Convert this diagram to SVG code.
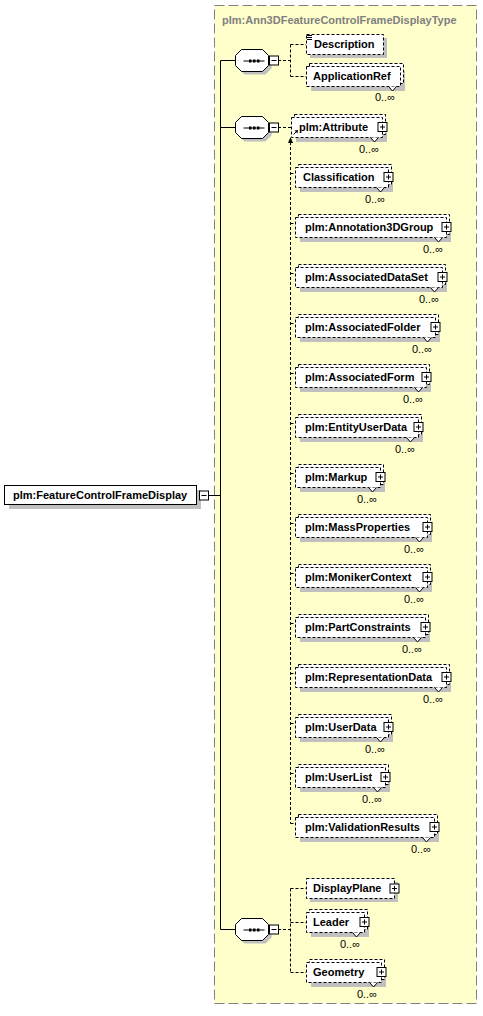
<svg xmlns="http://www.w3.org/2000/svg" width="483" height="1016" viewBox="0 0 483 1016">
<style>
  text { font-family: "Liberation Sans", Arial, sans-serif; font-size: 11px; fill: #000; }
  .nm { font-weight: bold; }
  .title { font-weight: bold; fill: #808080; }
  .card { font-weight: normal; text-anchor: end; }
  .shadow { fill: #C0C0C0; stroke: none; }
  .box { fill: #FFFFFF; stroke: #000; stroke-width: 1; stroke-dasharray: 3,2; }
  .solid { fill: #FFFFFF; stroke: #000; stroke-width: 1; }
  .btn { fill: #FFFFFF; stroke: #000; stroke-width: 1; }
  .ln { fill: none; stroke: #000; stroke-width: 1; }
  .dash { fill: none; stroke: #000; stroke-width: 1; stroke-dasharray: 3,2; }
  .notch { fill: #FFFFFF; stroke: #000; stroke-width: 1; }
</style>
<defs>
  <g id="oct">
    <polygon class="shadow" points="9,3 30,3 36,9 36,19 30,25 9,25 3,19 3,9"/>
    <polygon class="solid" points="6,0 27,0 33,6 33,16 27,22 6,22 0,16 0,6"/>
    <line class="ln" x1="8" y1="11.5" x2="29" y2="11.5"/>
    <rect x="13.5" y="10" width="2.5" height="3" fill="#000"/>
    <rect x="17.5" y="10" width="2.5" height="3" fill="#000"/>
    <rect x="21.5" y="10" width="2.5" height="3" fill="#000"/>
  </g>
  <g id="minus">
    <rect class="btn" x="0" y="0" width="9" height="9"/>
    <line class="ln" x1="2" y1="4.5" x2="7" y2="4.5"/>
  </g>
  <g id="plus">
    <rect class="btn" x="0" y="0" width="9" height="9"/>
    <line class="ln" x1="2" y1="4.5" x2="7" y2="4.5"/>
    <line class="ln" x1="4.5" y1="2" x2="4.5" y2="7"/>
  </g>
</defs>

<rect x="0" y="0" width="483" height="1016" fill="#FFFFFF"/>

<g id="type-frame">
  <rect x="214.5" y="5.5" width="262" height="998" fill="#FFFFCC" stroke="#808080" stroke-width="1" stroke-dasharray="10,4"/>
  <text class="title" x="222" y="24">plm:Ann3DFeatureControlFrameDisplayType</text>
</g>

<g id="connectors">
  <line class="ln" x1="208" y1="495.5" x2="220.5" y2="495.5"/>
  <line class="ln" x1="220.5" y1="60.5" x2="220.5" y2="929.5"/>
  <line class="ln" x1="220.5" y1="60.5" x2="235" y2="60.5"/>
  <line class="ln" x1="220.5" y1="127.5" x2="235" y2="127.5"/>
  <line class="ln" x1="220.5" y1="929.5" x2="235" y2="929.5"/>
  <path class="dash" d="M278 60.5 H290.5 M290.5 44.5 V76.5 M290.5 44.5 H306 M290.5 76.5 H306"/>
  <path class="dash" d="M278 127.5 H291"/>
  <path class="dash" d="M290.5 142 V823.5"/>
  <polygon points="290.5,137 288,143 293,143" fill="#000"/>
  <path class="dash" d="M290.5 173.5 H295 M290.5 223.5 H295 M290.5 273.5 H295 M290.5 323.5 H295 M290.5 373.5 H295 M290.5 423.5 H295 M290.5 473.5 H295 M290.5 523.5 H295 M290.5 573.5 H295 M290.5 623.5 H295 M290.5 673.5 H295 M290.5 723.5 H295 M290.5 773.5 H295 M290.5 823.5 H295"/>
  <path class="dash" d="M278 929.5 H290.5 M290.5 888.5 V972.5 M290.5 888.5 H306 M290.5 922.5 H306 M290.5 972.5 H306"/>
</g>

<g id="node-FeatureControlFrameDisplay">
  <rect class="shadow" x="9" y="490" width="192" height="19"/>
  <rect class="solid" x="4.5" y="485.5" width="192" height="19"/>
  <text class="nm" x="13" y="499">plm:FeatureControlFrameDisplay</text>
  <use href="#minus" x="199.5" y="491"/>
</g>

<g id="seq-1">
  <use href="#oct" x="235.5" y="49.5"/>
  <use href="#minus" x="269.5" y="56"/>
</g>
<g id="seq-2">
  <use href="#oct" x="235.5" y="116.5"/>
  <use href="#minus" x="269.5" y="123"/>
</g>
<g id="seq-3">
  <use href="#oct" x="235.5" y="918.5"/>
  <use href="#minus" x="269.5" y="925"/>
</g>

<g id="node-Description">
  <rect class="shadow" x="310" y="38" width="77" height="20"/>
  <rect class="box" x="306.5" y="34.5" width="77" height="20"/>
  <path class="ln" d="M307 35.5 H312 M307 37.5 H312 M307 39.5 H312"/>
  <text class="nm" x="314" y="48">Description</text>
</g>

<g id="node-ApplicationRef">
  <rect class="shadow" x="311" y="71" width="94" height="20"/>
  <rect class="box" x="309.5" y="63.5" width="94" height="20"/>
  <rect class="box" x="306.5" y="66.5" width="94" height="20"/>
  <polyline class="notch" points="388.5,86.5 392.5,91 396.5,86.5"/>
  <text class="nm" x="313" y="80">ApplicationRef</text>
  <text class="card" x="395" y="101">0..∞</text>
</g>

<g id="node-Attribute">
  <rect class="shadow" x="296" y="122" width="91" height="20"/>
  <rect class="box" x="294.5" y="114.5" width="91" height="20"/>
  <rect class="box" x="291.5" y="117.5" width="91" height="20"/>
  <path class="ln" d="M293.5 134.5 L297 131"/>
  <polygon points="298,130 294.5,130.5 297.5,133.5" fill="#000"/>
  <polyline class="notch" points="370.5,137.5 374.5,142 378.5,137.5"/>
  <text class="nm" x="299" y="131">plm:Attribute</text>
  <use href="#plus" x="378" y="122.5"/>
  <text class="card" x="379" y="153">0..∞</text>
</g>

<g id="node-Classification">
  <rect class="shadow" x="300" y="172" width="93" height="20"/>
  <rect class="box" x="298.5" y="164.5" width="93" height="20"/>
  <rect class="box" x="295.5" y="167.5" width="93" height="20"/>
  <polyline class="notch" points="376.5,187.5 380.5,192 384.5,187.5"/>
  <text class="nm" x="303" y="181">Classification</text>
  <use href="#plus" x="384" y="172.5"/>
  <text class="card" x="385" y="203">0..∞</text>
</g>

<g id="node-Annotation3DGroup">
  <rect class="shadow" x="300" y="222" width="151" height="20"/>
  <rect class="box" x="298.5" y="214.5" width="151" height="20"/>
  <rect class="box" x="295.5" y="217.5" width="151" height="20"/>
  <polyline class="notch" points="434.5,237.5 438.5,242 442.5,237.5"/>
  <text class="nm" x="305" y="231">plm:Annotation3DGroup</text>
  <use href="#plus" x="442" y="222.5"/>
  <text class="card" x="443" y="253">0..∞</text>
</g>

<g id="node-AssociatedDataSet">
  <rect class="shadow" x="300" y="272" width="147" height="20"/>
  <rect class="box" x="298.5" y="264.5" width="147" height="20"/>
  <rect class="box" x="295.5" y="267.5" width="147" height="20"/>
  <polyline class="notch" points="430.5,287.5 434.5,292 438.5,287.5"/>
  <text class="nm" x="305" y="281">plm:AssociatedDataSet</text>
  <use href="#plus" x="438" y="272.5"/>
  <text class="card" x="439" y="303">0..∞</text>
</g>

<g id="node-AssociatedFolder">
  <rect class="shadow" x="300" y="322" width="140" height="20"/>
  <rect class="box" x="298.5" y="314.5" width="140" height="20"/>
  <rect class="box" x="295.5" y="317.5" width="140" height="20"/>
  <polyline class="notch" points="423.5,337.5 427.5,342 431.5,337.5"/>
  <text class="nm" x="305" y="331">plm:AssociatedFolder</text>
  <use href="#plus" x="431" y="322.5"/>
  <text class="card" x="432" y="353">0..∞</text>
</g>

<g id="node-AssociatedForm">
  <rect class="shadow" x="300" y="372" width="131" height="20"/>
  <rect class="box" x="298.5" y="364.5" width="131" height="20"/>
  <rect class="box" x="295.5" y="367.5" width="131" height="20"/>
  <polyline class="notch" points="414.5,387.5 418.5,392 422.5,387.5"/>
  <text class="nm" x="305" y="381">plm:AssociatedForm</text>
  <use href="#plus" x="422" y="372.5"/>
  <text class="card" x="423" y="403">0..∞</text>
</g>

<g id="node-EntityUserData">
  <rect class="shadow" x="300" y="422" width="123" height="20"/>
  <rect class="box" x="298.5" y="414.5" width="123" height="20"/>
  <rect class="box" x="295.5" y="417.5" width="123" height="20"/>
  <polyline class="notch" points="406.5,437.5 410.5,442 414.5,437.5"/>
  <text class="nm" x="305" y="431">plm:EntityUserData</text>
  <use href="#plus" x="414" y="422.5"/>
  <text class="card" x="415" y="453">0..∞</text>
</g>

<g id="node-Markup">
  <rect class="shadow" x="300" y="472" width="85" height="20"/>
  <rect class="box" x="298.5" y="464.5" width="85" height="20"/>
  <rect class="box" x="295.5" y="467.5" width="85" height="20"/>
  <polyline class="notch" points="368.5,487.5 372.5,492 376.5,487.5"/>
  <text class="nm" x="305" y="481">plm:Markup</text>
  <use href="#plus" x="376" y="472.5"/>
  <text class="card" x="377" y="503">0..∞</text>
</g>

<g id="node-MassProperties">
  <rect class="shadow" x="300" y="522" width="132" height="20"/>
  <rect class="box" x="298.5" y="514.5" width="132" height="20"/>
  <rect class="box" x="295.5" y="517.5" width="132" height="20"/>
  <polyline class="notch" points="415.5,537.5 419.5,542 423.5,537.5"/>
  <text class="nm" x="305" y="531">plm:MassProperties</text>
  <use href="#plus" x="423" y="522.5"/>
  <text class="card" x="424" y="553">0..∞</text>
</g>

<g id="node-MonikerContext">
  <rect class="shadow" x="300" y="572" width="132" height="20"/>
  <rect class="box" x="298.5" y="564.5" width="132" height="20"/>
  <rect class="box" x="295.5" y="567.5" width="132" height="20"/>
  <polyline class="notch" points="415.5,587.5 419.5,592 423.5,587.5"/>
  <text class="nm" x="305" y="581">plm:MonikerContext</text>
  <use href="#plus" x="423" y="572.5"/>
  <text class="card" x="424" y="603">0..∞</text>
</g>

<g id="node-PartConstraints">
  <rect class="shadow" x="300" y="622" width="130" height="20"/>
  <rect class="box" x="298.5" y="614.5" width="130" height="20"/>
  <rect class="box" x="295.5" y="617.5" width="130" height="20"/>
  <polyline class="notch" points="413.5,637.5 417.5,642 421.5,637.5"/>
  <text class="nm" x="305" y="631">plm:PartConstraints</text>
  <use href="#plus" x="421" y="622.5"/>
  <text class="card" x="422" y="653">0..∞</text>
</g>

<g id="node-RepresentationData">
  <rect class="shadow" x="300" y="672" width="151" height="20"/>
  <rect class="box" x="298.5" y="664.5" width="151" height="20"/>
  <rect class="box" x="295.5" y="667.5" width="151" height="20"/>
  <polyline class="notch" points="434.5,687.5 438.5,692 442.5,687.5"/>
  <text class="nm" x="305" y="681">plm:RepresentationData</text>
  <use href="#plus" x="442" y="672.5"/>
  <text class="card" x="443" y="703">0..∞</text>
</g>

<g id="node-UserData">
  <rect class="shadow" x="300" y="722" width="93" height="20"/>
  <rect class="box" x="298.5" y="714.5" width="93" height="20"/>
  <rect class="box" x="295.5" y="717.5" width="93" height="20"/>
  <polyline class="notch" points="376.5,737.5 380.5,742 384.5,737.5"/>
  <text class="nm" x="305" y="731">plm:UserData</text>
  <use href="#plus" x="384" y="722.5"/>
  <text class="card" x="385" y="753">0..∞</text>
</g>

<g id="node-UserList">
  <rect class="shadow" x="300" y="772" width="90" height="20"/>
  <rect class="box" x="298.5" y="764.5" width="90" height="20"/>
  <rect class="box" x="295.5" y="767.5" width="90" height="20"/>
  <polyline class="notch" points="373.5,787.5 377.5,792 381.5,787.5"/>
  <text class="nm" x="305" y="781">plm:UserList</text>
  <use href="#plus" x="381" y="772.5"/>
  <text class="card" x="382" y="803">0..∞</text>
</g>

<g id="node-ValidationResults">
  <rect class="shadow" x="300" y="822" width="139" height="20"/>
  <rect class="box" x="298.5" y="814.5" width="139" height="20"/>
  <rect class="box" x="295.5" y="817.5" width="139" height="20"/>
  <polyline class="notch" points="422.5,837.5 426.5,842 430.5,837.5"/>
  <text class="nm" x="305" y="831">plm:ValidationResults</text>
  <use href="#plus" x="430" y="822.5"/>
  <text class="card" x="431" y="853">0..∞</text>
</g>

<g id="node-DisplayPlane">
  <rect class="shadow" x="310" y="882" width="88" height="20"/>
  <rect class="box" x="306.5" y="878.5" width="88" height="20"/>
  <text class="nm" x="313" y="892">DisplayPlane</text>
  <use href="#plus" x="390" y="884"/>
</g>

<g id="node-Leader">
  <rect class="shadow" x="311" y="917" width="58" height="20"/>
  <rect class="box" x="309.5" y="909.5" width="58" height="20"/>
  <rect class="box" x="306.5" y="912.5" width="58" height="20"/>
  <polyline class="notch" points="352.5,932.5 356.5,937 360.5,932.5"/>
  <text class="nm" x="313" y="926">Leader</text>
  <use href="#plus" x="360" y="917.5"/>
  <text class="card" x="360" y="948">0..∞</text>
</g>

<g id="node-Geometry">
  <rect class="shadow" x="311" y="967" width="75" height="20"/>
  <rect class="box" x="309.5" y="959.5" width="75" height="20"/>
  <rect class="box" x="306.5" y="962.5" width="75" height="20"/>
  <polyline class="notch" points="369.5,982.5 373.5,987 377.5,982.5"/>
  <text class="nm" x="313" y="976">Geometry</text>
  <use href="#plus" x="377" y="967.5"/>
  <text class="card" x="377" y="998">0..∞</text>
</g>
</svg>
